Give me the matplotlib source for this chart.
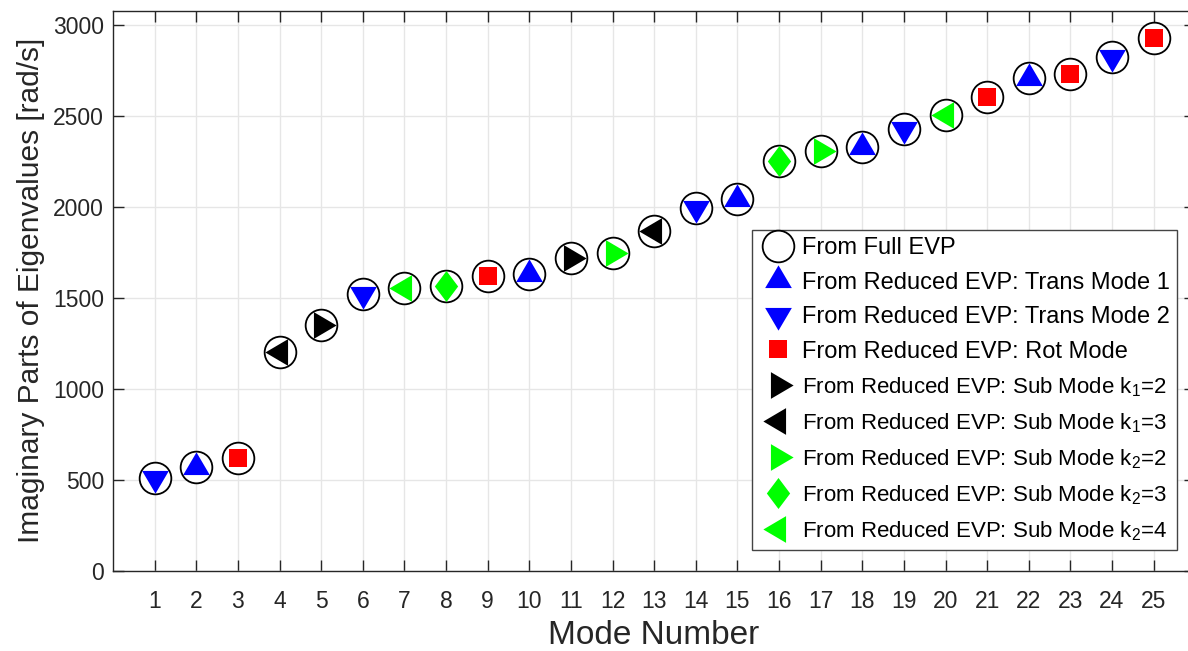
import matplotlib
matplotlib.use("Agg")
import matplotlib.pyplot as plt
import numpy as np
from matplotlib.path import Path

plt.rcParams['font.family'] = ['Liberation Sans', 'DejaVu Sans']
plt.rcParams['mathtext.default'] = 'regular'

# ---- data ----
modes = list(range(1, 26))
full_evp = [513, 573, 619, 1202, 1350, 1520, 1553, 1564, 1619, 1632, 1721, 1749, 1866,
            1994, 2044, 2254, 2309, 2328, 2427, 2504, 2603, 2706, 2731, 2824, 2930]

trans1_modes = [2, 10, 15, 18, 22]
trans1_vals = [573, 1632, 2044, 2328, 2706]
trans2_modes = [1, 6, 14, 19, 24]
trans2_vals = [513, 1520, 1994, 2427, 2824]
rot_modes = [3, 9, 21, 23, 25]
rot_vals = [619, 1619, 2603, 2731, 2930]
k1_2_modes = [5, 11]
k1_2_vals = [1350, 1721]
k1_3_modes = [4, 13]
k1_3_vals = [1202, 1866]
k2_2_modes = [12, 17]
k2_2_vals = [1749, 2309]
k2_3_modes = [8, 16]
k2_3_vals = [1564, 2254]
k2_4_modes = [7, 20]
k2_4_vals = [1553, 2504]

labels = ['From Full EVP',
          'From Reduced EVP: Trans Mode 1',
          'From Reduced EVP: Trans Mode 2',
          'From Reduced EVP: Rot Mode',
          'From Reduced EVP: Sub Mode k$_1$=2',
          'From Reduced EVP: Sub Mode k$_1$=3',
          'From Reduced EVP: Sub Mode k$_2$=2',
          'From Reduced EVP: Sub Mode k$_2$=3',
          'From Reduced EVP: Sub Mode k$_2$=4']
xticks = list(range(1, 26))
yticks = [0, 500, 1000, 1500, 2000, 2500, 3000]

# ---- figure ----
DPI = 100
W, H = 1188, 651
fig = plt.figure(figsize=(W / DPI, H / DPI), dpi=DPI)
px2pt = 72.0 / DPI

left_px, bottom_px, top_px = 113, 571, 10.7
unit_px = 41.625
xmax = 26
ax = fig.add_axes([left_px / W, (H - bottom_px) / H,
                   unit_px * xmax / W, (bottom_px - top_px) / H])

# centroid-centred triangle markers (like MATLAB)
tw, th = 26.7, 22.7
tri_up = Path([(0, 2 * th / 3), (-tw / 2, -th / 3), (tw / 2, -th / 3), (0, 2 * th / 3)],
              [Path.MOVETO, Path.LINETO, Path.LINETO, Path.CLOSEPOLY])
tri_down = Path([(0, -2 * th / 3), (-tw / 2, th / 3), (tw / 2, th / 3), (0, -2 * th / 3)],
                [Path.MOVETO, Path.LINETO, Path.LINETO, Path.CLOSEPOLY])
tri_right = Path([(2 * th / 3, 0), (-th / 3, tw / 2), (-th / 3, -tw / 2), (2 * th / 3, 0)],
                 [Path.MOVETO, Path.LINETO, Path.LINETO, Path.CLOSEPOLY])
tri_left = Path([(-2 * th / 3, 0), (th / 3, tw / 2), (th / 3, -tw / 2), (-2 * th / 3, 0)],
                [Path.MOVETO, Path.LINETO, Path.LINETO, Path.CLOSEPOLY])
tri_ms = 2 * (2 * th / 3) * px2pt
dw, dh = 23.3, 31.0
diamond = Path([(0, dh / 2), (dw / 2, 0), (0, -dh / 2), (-dw / 2, 0), (0, dh / 2)],
               [Path.MOVETO, Path.LINETO, Path.LINETO, Path.LINETO, Path.CLOSEPOLY])
dia_ms = dh * px2pt
sq_ms = 18.7 * px2pt
circ_ms = 31.7 * px2pt

BLUE, RED, GREEN, BLACK = (0, 0, 1), (1, 0, 0), (0, 1, 0), (0, 0, 0)

h = []
h += ax.plot(modes, full_evp, linestyle='none', marker='o', ms=circ_ms,
             mfc='white', mec='black', mew=1.3, zorder=3)
specs = [(trans1_modes, trans1_vals, tri_up, tri_ms, BLUE),
         (trans2_modes, trans2_vals, tri_down, tri_ms, BLUE),
         (rot_modes, rot_vals, 's', sq_ms, RED),
         (k1_2_modes, k1_2_vals, tri_right, tri_ms, BLACK),
         (k1_3_modes, k1_3_vals, tri_left, tri_ms, BLACK),
         (k2_2_modes, k2_2_vals, tri_right, tri_ms, GREEN),
         (k2_3_modes, k2_3_vals, diamond, dia_ms, GREEN),
         (k2_4_modes, k2_4_vals, tri_left, tri_ms, GREEN)]
for m, v, mk, ms, c in specs:
    h += ax.plot(m, v, linestyle='none', marker=mk, ms=ms, mfc=c, mec=c, mew=0, zorder=4)

ax.set_xlim(0, xmax)
ax.set_ylim(0, 3078)
ax.set_xticks(xticks)
ax.set_yticks(yticks)
ax.grid(True, color='#e6e6e6', linewidth=1.0, zorder=0)
ax.set_axisbelow(True)
for s in ax.spines.values():
    s.set_color('#262626')
    s.set_linewidth(1.0)
ax.tick_params(direction='in', length=8, width=1.0, color='#262626',
               top=True, right=True, labelsize=16.5, labelcolor='#262626')
ax.tick_params(axis='x', pad=14)
ax.tick_params(axis='y', pad=6.5)
ax.set_xlabel('Mode Number', fontsize=24, color='#262626', labelpad=5)
ax.set_ylabel('Imaginary Parts of Eigenvalues [rad/s]', fontsize=21.5, color='#262626', labelpad=6)

leg = fig.legend(h, labels, loc='upper right',
                 bbox_to_anchor=(1177 / W, 1 - 230 / H), fontsize=17,
                 frameon=True, fancybox=False, framealpha=1, edgecolor='#444444',
                 handlelength=1.55, handletextpad=0.25, labelspacing=0.53,
                 borderpad=0.3, borderaxespad=0)
leg.get_frame().set_linewidth(1.0)
for t in leg.get_texts()[4:]:
    t.set_fontsize(16)

fig.savefig('out.png', dpi=DPI)
